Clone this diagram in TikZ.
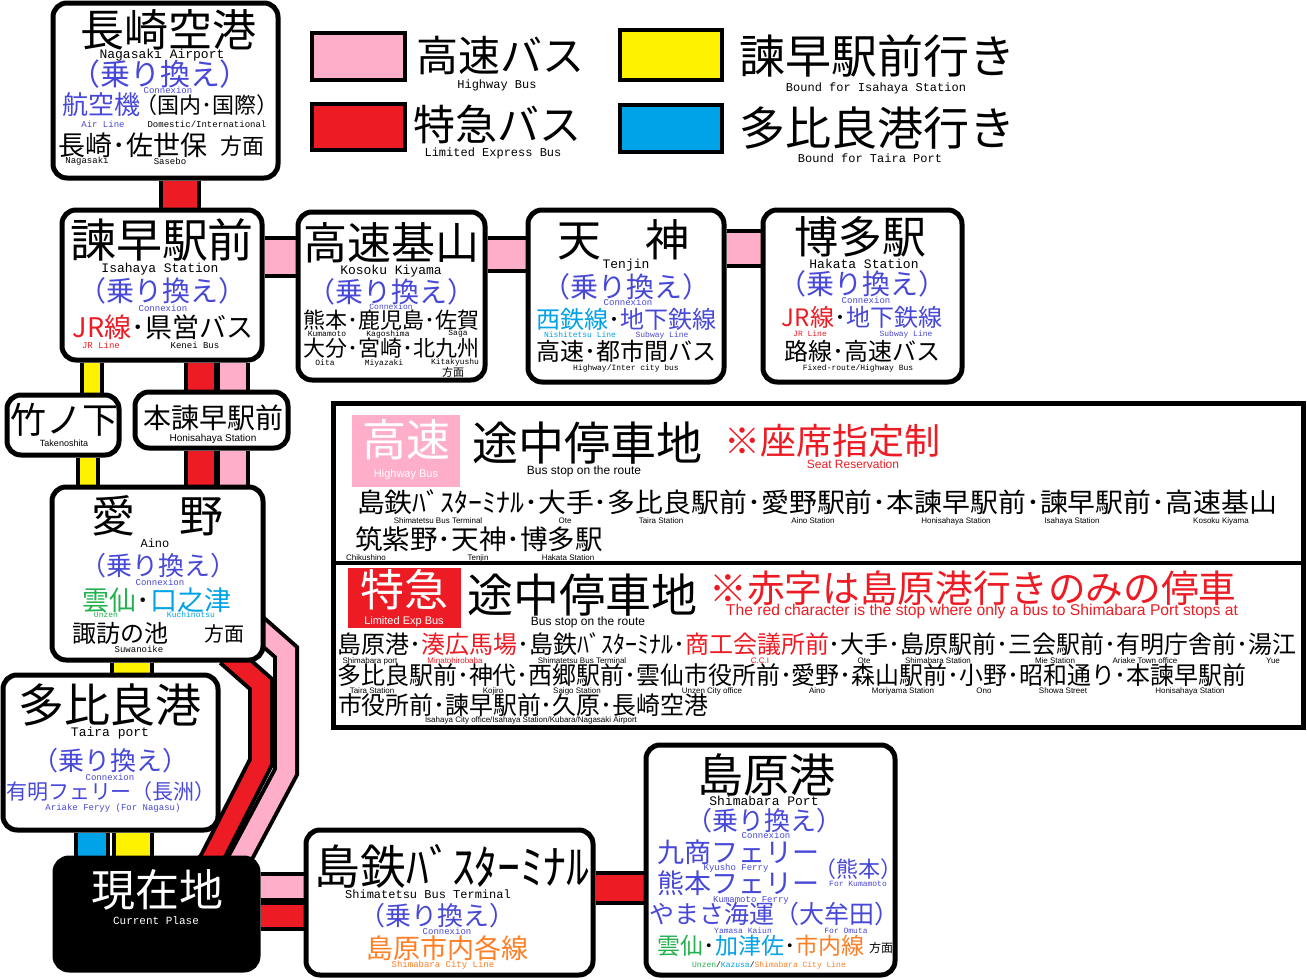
\documentclass[tikz,border=0pt]{standalone}
\usepackage{fontspec}
\usepackage{graphicx}
\setmainfont{Noto Sans CJK JP}
\newfontfamily\enf{Liberation Mono}
\newfontfamily\arf{Liberation Sans}
\usetikzlibrary{backgrounds}
\definecolor{hwpink}{RGB}{255,174,201}
\definecolor{exred}{RGB}{237,28,36}
\definecolor{isayel}{RGB}{255,242,0}
\definecolor{taiblue}{RGB}{0,162,232}
\definecolor{conn}{RGB}{72,72,216}
\definecolor{unzgreen}{RGB}{34,177,76}
\definecolor{cityor}{RGB}{255,127,39}
\newcommand\fs[1]{\fontsize{#1}{#1}\selectfont}
\newcommand\fitw[3]{\resizebox*{#1pt}{#2pt}{#3}}
\begin{document}
\begin{tikzpicture}[x=1pt, y=-1pt,
  every node/.style={inner sep=0pt},
  stopbox/.style={draw, line width=5pt, rounded corners=14pt, fill=white},
  legbox/.style={draw, line width=4pt},
  bar/.style={line width=4pt, double=#1, double distance=28pt, line join=miter},
  jp/.style={font=\fs{#1}},
  en/.style={font=\enf\fs{#1}},
  lab/.style={font=\arf\fs{8}}]
\useasboundingbox (0,0) rectangle (1307,980);
% the stops
\node[stopbox, minimum width=225pt, minimum height=175pt] (air) at (165.5,90.5) {};
\node[stopbox, minimum width=200pt, minimum height=150pt] (isa) at (162,285) {};
\node[stopbox, minimum width=187pt, minimum height=168pt] (kiy) at (391.5,296) {};
\node[stopbox, minimum width=196pt, minimum height=172pt] (ten) at (626,296) {};
\node[stopbox, minimum width=199pt, minimum height=172pt] (hak) at (862.5,296) {};
\node[stopbox, minimum width=112pt, minimum height=60pt] (tak) at (63,425) {};
\node[stopbox, minimum width=153pt, minimum height=56pt] (hon) at (211.5,420) {};
\node[stopbox, minimum width=211pt, minimum height=173pt] (ain) at (157.5,573.5) {};
\node[stopbox, minimum width=215pt, minimum height=155pt] (tai) at (110.5,752.5) {};
\node[stopbox, fill=black, minimum width=203pt, minimum height=112pt] (cur) at (156.5,914) {};
\node[stopbox, minimum width=287pt, minimum height=145pt] (stb) at (449.5,902.5) {};
\node[stopbox, minimum width=249pt, minimum height=230pt] (shp) at (770.5,860) {};

% the lines between the stops
\begin{scope}[on background layer]
\draw[bar=exred, double distance=34pt] ([xshift=14.5pt]air.south) -- ([xshift=18pt]isa.north);
\draw[bar=hwpink, double distance=34pt] ([yshift=28pt]isa.east) -- ([yshift=39pt]kiy.west);
\draw[bar=hwpink, double distance=29pt] ([yshift=42pt]kiy.east) -- ([yshift=42pt]ten.west);
\draw[bar=hwpink, double distance=31pt] ([yshift=48pt]ten.east) -- ([yshift=48pt]hak.west);
\draw[bar=isayel, double distance=16pt] ([xshift=-70pt]isa.south) -- ([xshift=29pt]tak.north);
\draw[bar=exred, double distance=26pt] ([xshift=39pt]isa.south) -- ([xshift=-10.5pt]hon.north);
\draw[bar=hwpink, double distance=26pt] ([xshift=71pt]isa.south) -- ([xshift=21.5pt]hon.north);
\draw[bar=isayel, double distance=16pt] ([xshift=25pt]tak.south) -- ([xshift=-69.5pt]ain.north);
\draw[bar=exred, double distance=26pt] ([xshift=-10.5pt]hon.south) -- ([xshift=43.5pt]ain.north);
\draw[bar=hwpink, double distance=26pt] ([xshift=21.5pt]hon.south) -- ([xshift=75.5pt]ain.north);
\draw[bar=isayel, double distance=36pt] ([xshift=-25.5pt]ain.south) -- ([xshift=21.5pt]tai.north);
\draw[bar=taiblue, double distance=28pt] ([xshift=-18.5pt]tai.south) -- ([xshift=-64.5pt]cur.north);
\draw[bar=isayel, double distance=34pt] ([xshift=22.5pt]tai.south) -- ([xshift=-23.5pt]cur.north);
\draw[bar=hwpink, double distance=18pt] ([xshift=95pt,yshift=40pt]ain.south) -- (286,652) -- (286,772) -- (238,862) -- ([xshift=70pt,yshift=-20pt]cur.north);
\draw[bar=exred, double distance=18pt] ([xshift=70pt,yshift=8pt]ain.south) -- (261,684) -- (261,762) -- (210,862) -- ([xshift=40pt,yshift=-20pt]cur.north);
\draw[bar=hwpink, double distance=22pt] ([yshift=27pt]cur.east) -- ([yshift=15.5pt]stb.west);
\draw[bar=exred, double distance=22pt] ([yshift=-2pt]cur.east) -- ([yshift=-13.5pt]stb.west);
\draw[bar=exred, double distance=26pt] ([yshift=14.5pt]stb.east) -- ([yshift=-28pt]shp.west);
\end{scope}

% Nagasaki Airport
\node[jp=44] (air1) at (168,30) {長崎空港};
\node[en=13] (air2) at (162,55) {Nagasaki Airport};
\node[jp=30, text=conn] (air3) at (160,74) {（乗り換え）};
\node[en=9, text=conn] (air4) at (168,90) {Connexion};
\node[jp=26, text=conn] (air5) at (101,105) {航空機};
\node[jp=22] (air6) at (207,105) {（国内･国際）};
\node[en=9, text=conn] (air7) at (103,124) {Air Line};
\node[en=9] (air8) at (207,124) {Domestic/International};
\node[jp=27] (air9) at (133,145) {長崎･佐世保};
\node[jp=22] (air10) at (242,146) {方面};
\node[en=9] (air11) at (87,161) {Nagasaki};
\node[en=9] (air12) at (170,161) {Sasebo};
% Isahaya Station
\node[jp=46] (isa1) at (162,240) {諫早駅前};
\node[en=13] (isa2) at (160,269) {Isahaya Station};
\node[jp=28, text=conn] (isa3) at (162,291) {（乗り換え）};
\node[en=9, text=conn] (isa4) at (163,308) {Connexion};
\node[jp=27] (isa5) at (163,327) {\textcolor{exred}{JR線}･県営バス};
\node[en=9, text=exred] (isa6) at (101,345) {JR Line};
\node[en=9] (isa7) at (195,345) {Kenei Bus};
% Kosoku Kiyama
\node[jp=44] (kiy1) at (391,243) {高速基山};
\node[en=13] (kiy2) at (391,271) {Kosoku Kiyama};
\node[jp=28, text=conn] (kiy3) at (391,292) {（乗り換え）};
\node[en=8, text=conn] (kiy4) at (391,307) {Connexion};
\node[jp=22] (kiy5) at (391,320) {熊本･鹿児島･佐賀};
\node[en=8] (kiy6) at (327,334) {Kumamoto};
\node[en=8] (kiy7) at (388,334) {Kagoshima};
\node[en=8] (kiy8) at (458,334) {Saga};
\node[jp=22] (kiy9) at (391,348) {大分･宮崎･北九州};
\node[en=8] (kiy10) at (325,363) {Oita};
\node[en=8] (kiy11) at (384,363) {Miyazaki};
\node[en=8] (kiy12) at (455,362) {Kitakyushu};
\node[jp=11] (kiy13) at (453,372) {方面};
% Tenjin
\node[jp=44] (ten1) at (623,240) {天　神};
\node[en=13] (ten2) at (626,265) {Tenjin};
\node[jp=28, text=conn] (ten3) at (626,287) {（乗り換え）};
\node[en=9, text=conn] (ten4) at (628,302) {Connexion};
\node[jp=24] (ten5) at (626,319) {\textcolor{taiblue}{西鉄線}･\textcolor{conn}{地下鉄線}};
\node[en=8, text=taiblue] (ten6) at (580,335) {Nishitetsu Line};
\node[en=8, text=conn] (ten7) at (662,335) {Subway Line};
\node[jp=24] (ten8) at (626,351) {高速･都市間バス};
\node[en=8] (ten9) at (626,368) {Highway/Inter city bus};
% Hakata Station
\node[jp=44] (hak1) at (860,237) {博多駅};
\node[en=13] (hak2) at (864,264) {Hakata Station};
\node[jp=28, text=conn] (hak3) at (862,284) {（乗り換え）};
\node[en=9, text=conn] (hak4) at (866,300) {Connexion};
\node[jp=24] (hak5) at (862,317) {\textcolor{exred}{JR線}･\textcolor{conn}{地下鉄線}};
\node[en=8, text=exred] (hak6) at (810,334) {JR Line};
\node[en=8, text=conn] (hak7) at (906,334) {Subway Line};
\node[jp=24] (hak8) at (862,351) {路線･高速バス};
\node[en=8] (hak9) at (858,368) {Fixed-route/Highway Bus};
% Takenoshita, Honisahaya
\node[jp=36] (tak1) at (64,420) {竹ノ下};
\node[font=\arf\fs{9}] (tak2) at (64,443) {Takenoshita};
\node[jp=28] (hon1) at (213,418) {本諫早駅前};
\node[font=\arf\fs{10}] (hon2) at (213,439) {Honisahaya Station};
% Aino
\node[jp=44] (ain1) at (157,516) {愛　野};
\node[en=12] (ain2) at (155,543) {Aino};
\node[jp=26, text=conn] (ain3) at (158,566) {（乗り換え）};
\node[en=9, text=conn] (ain4) at (160,582) {Connexion};
\node[jp=27] (ain5) at (157,600) {\textcolor{unzgreen}{雲仙}･\textcolor{taiblue}{口之津}};
\node[en=8, text=unzgreen] (ain6) at (106,615) {Unzen};
\node[en=8, text=taiblue] (ain7) at (191,615) {Kuchinotsu};
\node[jp=24] (ain8) at (120,633) {諏訪の池};
\node[jp=20] (ain9) at (224,634) {方面};
\node[en=9] (ain10) at (139,649) {Suwanoike};
% Taira port
\node[jp=46] (tai1) at (110,705) {多比良港};
\node[en=13] (tai2) at (110,733) {Taira port};
\node[jp=26, text=conn] (tai3) at (110,761) {（乗り換え）};
\node[en=9, text=conn] (tai4) at (110,777) {Connexion};
\node[jp=21, text=conn] (tai5) at (111,792) {有明フェリー（長洲）};
\node[en=9, text=conn] (tai6) at (113,808) {Ariake Feryy (For Nagasu)};
% Current place
\node[jp=44, text=white] (cur1) at (157,890) {現在地};
\node[en=11, text=white] (cur2) at (156,921) {Current Plase};
% Shimatetsu Bus Terminal
\node (stb1) at (452,866) {\fitw{275}{44}{島鉄ﾊﾞｽﾀｰﾐﾅﾙ}};
\node[en=12] (stb2) at (428,894) {Shimatetsu Bus Terminal};
\node[jp=26, text=conn] (stb3) at (437,916) {（乗り換え）};
\node[en=9, text=conn] (stb4) at (447,931) {Connexion};
\node[jp=27, text=cityor] (stb5) at (447,948) {島原市内各線};
\node[en=9, text=cityor] (stb6) at (443,965) {Shimabara City Line};
% Shimabara Port
\node[jp=46] (shp1) at (766,775) {島原港};
\node[en=13] (shp2) at (764,801) {Shimabara Port};
\node[jp=26, text=conn] (shp3) at (764,821) {（乗り換え）};
\node[en=9, text=conn] (shp4) at (766,835) {Connexion};
\node[jp=27, text=conn] (shp5) at (738,852) {九商フェリー};
\node[en=9, text=conn] (shp6) at (736,868) {Kyusho Ferry};
\node[jp=22, text=conn] (shp7) at (858,869) {（熊本）};
\node[jp=27, text=conn] (shp8) at (738,883) {熊本フェリー};
\node[en=8, text=conn] (shp9) at (858,884) {For Kumamoto};
\node[en=9, text=conn] (shp10) at (751,900) {Kumamoto Ferry};
\node[jp=25, text=conn] (shp11) at (774,914) {やまさ海運（大牟田）};
\node[en=8, text=conn] (shp12) at (743,931) {Yamasa Kaiun};
\node[en=8, text=conn] (shp13) at (846,931) {For Omuta};
\node[jp=23] (shp14) at (761,946) {\textcolor{unzgreen}{雲仙}･\textcolor{taiblue}{加津佐}･\textcolor{cityor}{市内線}};
\node[jp=12] (shp15) at (881,948) {方面};
\node[en=8] (shp16) at (769,965) {\textcolor{unzgreen}{Unzen}/\textcolor{taiblue}{Kazusa}/\textcolor{cityor}{Shimabara City Line}};

% the legend
\node[legbox, fill=hwpink, minimum width=93pt, minimum height=47pt] (lgpink) at (358.5,56.5) {};
\node[legbox, fill=exred, minimum width=93pt, minimum height=46pt] (lgred) at (358.5,127) {};
\node[legbox, fill=isayel, minimum width=102pt, minimum height=50pt] (lgyel) at (671,55) {};
\node[legbox, fill=taiblue, minimum width=102pt, minimum height=47pt] (lgblue) at (671,128.5) {};
\node[jp=42] (lg1) at (500,56) {高速バス};
\node[en=12] (lg2) at (497,85) {Highway Bus};
\node[jp=42] (lg3) at (497,124) {特急バス};
\node[en=12] (lg4) at (493,153) {Limited Express Bus};
\node[jp=46] (lg5) at (877,56) {諫早駅前行き};
\node[en=12] (lg6) at (876,88) {Bound for Isahaya Station};
\node[jp=46] (lg7) at (877,128) {多比良港行き};
\node[en=12] (lg8) at (870,158) {Bound for Taira Port};

% the stops on the route
\node[draw, line width=5pt, minimum width=970pt, minimum height=324pt] (route) at (818,565) {};
\coordinate (divl) at (333,563);
\coordinate (divr) at (1303,563);
\draw[line width=4pt] (divl) -- (divr);
\node[fill=hwpink, minimum width=108pt, minimum height=72pt] (hwsq) at (406,451) {};
\node[jp=44, text=white] (hw1) at (406,440) {高速};
\node[text=white, font=\arf\fs{11}] (hw2) at (406,475) {Highway Bus};
\node[jp=46] (hw3) at (587,443) {途中停車地};
\node[font=\arf\fs{12}] (hw4) at (584,471) {Bus stop on the route};
\node[jp=36, text=exred] (hw5) at (832,441) {※座席指定制};
\node[text=exred, font=\arf\fs{12}] (hw6) at (853,464) {Seat Reservation};
\node (hw7) at (817,502) {\fitw{920}{25}{島鉄ﾊﾞｽﾀｰﾐﾅﾙ･大手･多比良駅前･愛野駅前･本諫早駅前･諫早駅前･高速基山}};
\node[lab] (hw8) at (438,521) {Shimatetsu Bus Terminal};
\node[lab] (hw9) at (565,521) {Ote};
\node[lab] (hw10) at (661,521) {Taira Station};
\node[lab] (hw11) at (813,521) {Aino Station};
\node[lab] (hw12) at (956,521) {Honisahaya Station};
\node[lab] (hw13) at (1072,521) {Isahaya Station};
\node[lab] (hw14) at (1221,521) {Kosoku Kiyama};
\node (hw15) at (479,539) {\fitw{248}{25}{筑紫野･天神･博多駅}};
\node[lab] (hw16) at (366,558) {Chikushino};
\node[lab] (hw17) at (478,558) {Tenjin};
\node[lab] (hw18) at (568,558) {Hakata Station};
\node[fill=exred, minimum width=113pt, minimum height=60pt] (exsq) at (404,598) {};
\node[jp=44, text=white] (ex1) at (404,590) {特急};
\node[text=white, font=\arf\fs{11}] (ex2) at (404,622) {Limited Exp Bus};
\node[jp=46] (ex3) at (582,595) {途中停車地};
\node[font=\arf\fs{12}] (ex4) at (588,622) {Bus stop on the route};
\node[text=exred] (ex5) at (973,588) {\fitw{527}{35}{※赤字は島原港行きのみの停車}};
\node[text=exred] (ex6) at (982,611) {\arf\resizebox{512pt}{!}{The red character is the stop where only a bus to Shimabara Port stops at}};
\node (ex7) at (817,644) {\fitw{959}{23}{島原港･\textcolor{exred}{湊広馬場}･島鉄ﾊﾞｽﾀｰﾐﾅﾙ･\textcolor{exred}{商工会議所前}･大手･島原駅前･三会駅前･有明庁舎前･湯江}};
\node[lab] (ex8) at (370,661) {Shimabara port};
\node[lab, text=exred] (ex9) at (455,661) {Minatohirobaba};
\node[lab] (ex10) at (582,661) {Shimatetsu Bus Terminal};
\node[lab, text=exred] (ex11) at (760,661) {C.C.I};
\node[lab] (ex12) at (864,661) {Ote};
\node[lab] (ex13) at (938,661) {Shimabara Station};
\node[lab] (ex14) at (1055,661) {Mie Station};
\node[lab] (ex15) at (1145,661) {Ariake Town office};
\node[lab] (ex16) at (1273,661) {Yue};
\node (ex17) at (792,675) {\fitw{909}{23}{多比良駅前･神代･西郷駅前･雲仙市役所前･愛野･森山駅前･小野･昭和通り･本諫早駅前}};
\node[lab] (ex18) at (372,691) {Taira Station};
\node[lab] (ex19) at (493,691) {Kojiro};
\node[lab] (ex20) at (577,691) {Saigo Station};
\node[lab] (ex21) at (712,691) {Unzen City office};
\node[lab] (ex22) at (817,691) {Aino};
\node[lab] (ex23) at (903,691) {Moriyama Station};
\node[lab] (ex24) at (984,691) {Ono};
\node[lab] (ex25) at (1063,691) {Showa Street};
\node[lab] (ex26) at (1190,691) {Honisahaya Station};
\node (ex27) at (523,705) {\fitw{370}{23}{市役所前･諫早駅前･久原･長崎空港}};
\node[lab] (ex28) at (531,720) {Isahaya City office/Isahaya Station/Kubara/Nagasaki Airport};
\end{tikzpicture}
\end{document}
